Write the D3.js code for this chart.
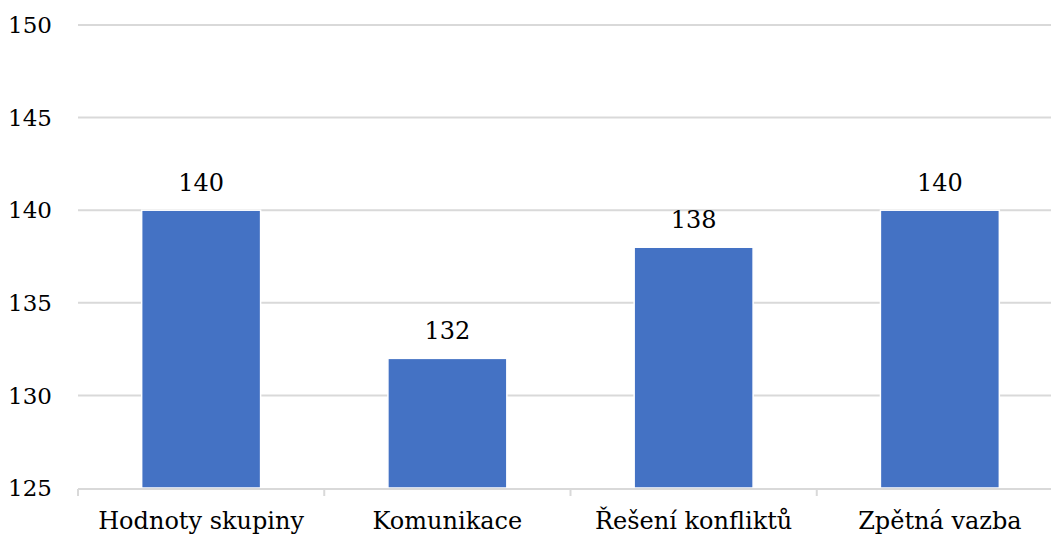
<!DOCTYPE html>
<html><head><meta charset="utf-8">
<script src="https://cdn.jsdelivr.net/npm/d3@7"></script>
<style>body{margin:0;background:#fff;} svg{display:block;}</style>
</head><body>
<script>
const categories = ["Hodnoty skupiny", "Komunikace", "Řešení konfliktů", "Zpětná vazba"];
const values = [140, 132, 138, 140];
const yTicks = [125, 130, 135, 140, 145, 150];

const W = 1051, H = 535;
const FONT = "'DejaVu Serif', serif";
const FS = 23;
const svg = d3.select("body").append("svg").attr("width", W).attr("height", H);

const x = d3.scaleBand().domain(categories).range([78, 1063]).paddingInner(0.517).paddingOuter(0.2585);
const y = d3.scaleLinear().domain([125, 150]).range([488, 25]);

// horizontal gridlines
svg.append("g").selectAll("line").data(yTicks.slice(1)).join("line")
  .attr("x1", 78).attr("x2", 1063)
  .attr("y1", d => y(d)).attr("y2", d => y(d))
  .attr("stroke", "#d9d9d9").attr("stroke-width", 2);

// y tick labels
svg.append("g").selectAll("text").data(yTicks).join("text")
  .attr("x", 52).attr("y", d => y(d)).attr("dy", "0.36em")
  .attr("text-anchor", "end").attr("font-size", FS)
  .style("font-family", FONT)
  .attr("fill", "#000").text(d => d);

// bars
svg.append("g").selectAll("rect").data(values).join("rect")
  .attr("x", (d, i) => x(categories[i])).attr("width", x.bandwidth())
  .attr("y", d => y(d)).attr("height", d => y(125) - y(d))
  .attr("fill", "#4472c4").attr("stroke", "#fff").attr("stroke-width", 1.5);

// category axis
const step = x.step();
const ax = svg.append("g");
ax.append("line").attr("x1", 78).attr("x2", 1063).attr("y1", 489).attr("y2", 489)
  .attr("stroke", "#d9d9d9").attr("stroke-width", 2);
ax.selectAll("line.tick").data(d3.range(categories.length + 1)).join("line")
  .attr("class", "tick")
  .attr("x1", i => 78 + i * step).attr("x2", i => 78 + i * step)
  .attr("y1", 489).attr("y2", 496)
  .attr("stroke", "#d9d9d9").attr("stroke-width", 2);
ax.selectAll("text").data(categories).join("text")
  .attr("x", d => x(d) + x.bandwidth() / 2).attr("y", 529)
  .attr("text-anchor", "middle").attr("font-size", 24)
  .style("font-family", FONT)
  .attr("fill", "#000").text(d => d);

// data labels
svg.append("g").selectAll("text").data(values).join("text")
  .attr("x", (d, i) => x(categories[i]) + x.bandwidth() / 2).attr("y", d => y(d) - 19)
  .attr("text-anchor", "middle").attr("font-size", 24)
  .style("font-family", FONT)
  .attr("fill", "#000").text(d => d);
</script>
</body></html>
